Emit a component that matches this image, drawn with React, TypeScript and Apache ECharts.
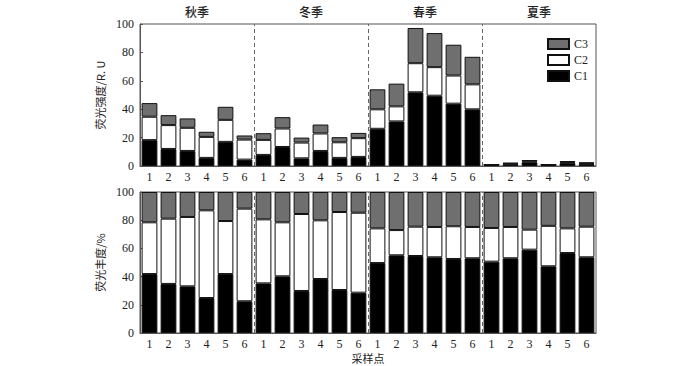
import React, { useEffect, useRef } from "react";
import * as echarts from "echarts";

const seasons = ["秋季", "冬季", "春季", "夏季"];
const sites = ["1", "2", "3", "4", "5", "6"];
const categories = seasons.flatMap(() => sites);
const seasonBoundaries = [6, 12, 18];

// Fluorescence intensity (R.U) per component
const intC1 = [18.2, 12.0, 10.6, 5.7, 17.0, 4.5, 7.8, 13.4, 5.4, 10.6, 5.7, 6.4, 26.2, 31.4, 51.9, 49.5, 43.9, 39.9, 0.6, 1.2, 2.5, 0.6, 2.0, 1.3];
const intC2 = [16.5, 16.8, 16.3, 14.8, 15.5, 14.1, 10.6, 13.0, 11.1, 12.3, 11.0, 13.2, 13.7, 10.6, 20.5, 20.1, 19.8, 17.6, 0.3, 0.5, 0.6, 0.3, 0.6, 0.6];
const intC3 = [9.6, 7.0, 6.6, 3.6, 9.2, 2.9, 4.7, 8.0, 3.5, 6.3, 3.6, 3.7, 14.1, 16.0, 24.8, 24.0, 21.7, 19.4, 0.3, 0.5, 1.1, 0.3, 0.9, 0.6];

// Fluorescence abundance (%) per component
const pctC1 = [41.8, 34.8, 33.1, 24.8, 41.8, 22.5, 35.2, 40.2, 29.8, 38.3, 30.5, 28.6, 49.6, 55.1, 54.6, 53.7, 52.5, 53.0, 50.6, 53.0, 59.1, 47.3, 56.7, 53.7];
const pctC2 = [36.7, 46.3, 49.2, 62.2, 37.6, 65.7, 45.4, 38.3, 54.6, 41.6, 55.3, 56.7, 24.6, 17.9, 20.8, 21.5, 23.2, 22.2, 23.9, 22.2, 14.2, 28.7, 17.5, 21.7];
const pctC3 = [21.5, 18.9, 17.7, 13.0, 20.6, 11.8, 19.4, 21.5, 15.6, 20.1, 14.2, 14.7, 25.8, 27.0, 24.6, 24.8, 24.3, 24.8, 25.5, 24.8, 26.7, 24.0, 25.8, 24.6];

const colors = { C1: "#000000", C2: "#ffffff", C3: "#6f6f6f" };
const FONT = "'Liberation Serif', 'Noto Sans CJK SC', serif";
const CJK = "'Noto Sans CJK SC', 'Liberation Serif', serif";

export default function App() {
  const ref = useRef<HTMLDivElement>(null);

  useEffect(() => {
    if (!ref.current) return;
    const chart = echarts.init(ref.current, null, { renderer: "svg" });

    const axisColor = "#555";
    const grids = [
      { left: 140, width: 456, top: 24, height: 142, show: true, borderColor: axisColor, borderWidth: 1 },
      { left: 140, width: 456, top: 192, height: 141, show: true, borderColor: axisColor, borderWidth: 1 },
    ];

    const catAxis = (gridIndex: number, name: string) => ({
      type: "category",
      gridIndex,
      data: categories,
      position: "bottom",
      axisLine: { lineStyle: { color: axisColor } },
      axisTick: { show: false },
      axisLabel: { fontFamily: FONT, fontSize: 12, color: "#222", margin: 5, interval: 0 },
      name,
      nameLocation: "middle",
      nameGap: 19,
      nameTextStyle: { fontFamily: CJK, fontSize: 11, color: "#222" },
    });

    const overlayAxis = (gridIndex: number) => ({
      type: "value",
      gridIndex,
      min: 0,
      max: 24,
      show: false,
    });

    const yAxis = (gridIndex: number, name: string) => ({
      type: "value",
      gridIndex,
      min: 0,
      max: 100,
      interval: 20,
      axisLine: { show: true, lineStyle: { color: axisColor } },
      axisTick: { show: true, inside: true, length: 3, lineStyle: { color: axisColor } },
      splitLine: { show: false },
      axisLabel: { fontFamily: FONT, fontSize: 12, color: "#222", margin: 6 },
      name,
      nameLocation: "middle",
      nameGap: 33,
      nameRotate: 90,
      nameTextStyle: { fontFamily: CJK, fontSize: 11, color: "#222" },
    });

    const barSeries = (name: "C1" | "C2" | "C3", data: number[], xi: number, yi: number) => ({
      type: "bar",
      name,
      data,
      xAxisIndex: xi,
      yAxisIndex: yi,
      stack: "s" + yi,
      barCategoryGap: "17%",
      itemStyle: { color: colors[name], borderColor: "#111", borderWidth: 1 },
    });

    const dividers = (xi: number, yi: number) => ({
      type: "line",
      xAxisIndex: xi,
      yAxisIndex: yi,
      data: [],
      silent: true,
      markLine: {
        silent: true,
        symbol: ["none", "none"],
        label: { show: false },
        lineStyle: { color: "#666", type: [4, 3], width: 1 },
        data: seasonBoundaries.map((v) => ({ xAxis: v })),
      },
    });

    chart.setOption({
      animation: false,
      backgroundColor: "#fff",
      grid: grids,
      legend: {
        data: ["C3", "C2", "C1"],
        orient: "vertical",
        left: 542,
        top: 33,
        itemWidth: 21,
        itemHeight: 10,
        itemGap: 4,
        icon: "rect",
        textStyle: { fontFamily: FONT, fontSize: 12, color: "#222" },
      },
      xAxis: [
        catAxis(0, ""),
        {
          type: "category",
          gridIndex: 0,
          data: seasons,
          position: "top",
          axisLine: { show: false },
          axisTick: { show: false },
          axisLabel: { fontFamily: CJK, fontSize: 12, fontWeight: 500, color: "#222", margin: 7 },
        },
        overlayAxis(0),
        catAxis(1, "采样点"),
        overlayAxis(1),
      ],
      yAxis: [yAxis(0, "荧光强度/R. U"), yAxis(1, "荧光丰度/%")],
      series: [
        barSeries("C1", intC1, 0, 0),
        barSeries("C2", intC2, 0, 0),
        barSeries("C3", intC3, 0, 0),
        barSeries("C1", pctC1, 3, 1),
        barSeries("C2", pctC2, 3, 1),
        barSeries("C3", pctC3, 3, 1),
        dividers(2, 0),
        dividers(4, 1),
      ],
    });

    return () => chart.dispose();
  }, []);

  return (
    <div
      ref={ref}
      style={{ position: "absolute", left: 0, top: 0, width: 700, height: 366, background: "#fff" }}
    />
  );
}
